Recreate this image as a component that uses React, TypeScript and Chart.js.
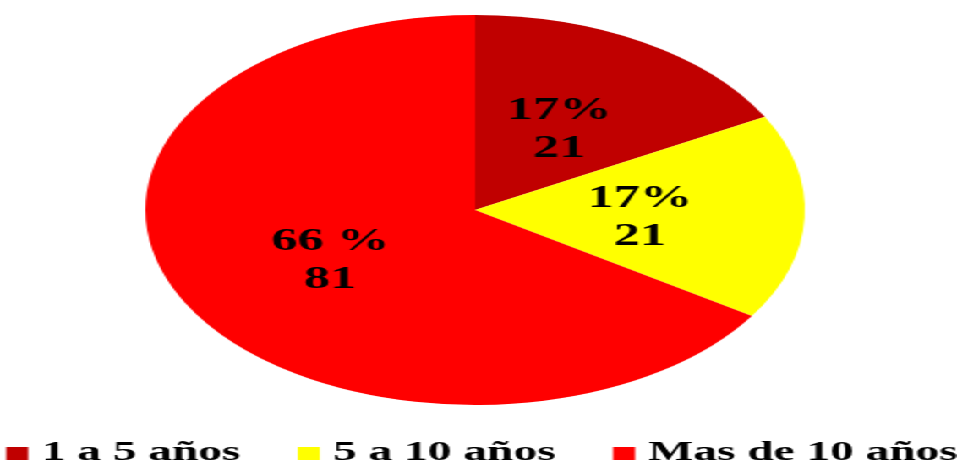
import React, { useEffect, useRef } from "react";
import { Chart, registerables } from "chart.js";

Chart.register(...registerables);

const categories = ["1 a 5 años", "5 a 10 años", "Mas de 10 años"];
const counts = [21, 21, 81];
const percentLabels = ["17%", "17%", "66 %"];
const colors = ["#C00000", "#FFFF00", "#FF0000"];

const BASE_W = 566;
const H = 463;
const SCALE = 957 / BASE_W;
const FONT = "'Liberation Serif', 'Times New Roman', serif";

const labelPlugin = {
  id: "sliceLabels",
  afterDatasetsDraw(chart: any) {
    const ctx = chart.ctx;
    const meta = chart.getDatasetMeta(0);
    ctx.save();
    ctx.font = `bold 31px ${FONT}`;
    ctx.fillStyle = "#000";
    ctx.textAlign = "center";
    ctx.textBaseline = "middle";
    meta.data.forEach((arc: any, i: number) => {
      const p = arc.getProps(["x", "y", "startAngle", "endAngle", "outerRadius"], true);
      const mid = (p.startAngle + p.endAngle) / 2;
      const r = p.outerRadius * 0.5;
      const cx = p.x + Math.cos(mid) * r;
      const cy = p.y + Math.sin(mid) * r + 4;
      ctx.fillText(percentLabels[i], cx, cy - 19);
      ctx.fillText(String(counts[i]), cx, cy + 19);
    });
    ctx.restore();
  },
};

const legendPlugin = {
  id: "bottomLegend",
  afterDraw(chart: any) {
    const ctx = chart.ctx;
    const labels: string[] = chart.data.labels;
    const bg: string[] = chart.data.datasets[0].backgroundColor;
    const box = 13;
    const gap = 8;
    const spacing = 34;
    ctx.save();
    ctx.font = `bold 28px ${FONT}`;
    const widths = labels.map((l) => ctx.measureText(l).width);
    const total =
      widths.reduce((a, w) => a + w + box + gap, 0) + spacing * (labels.length - 1);
    let x = 285 - total / 2;
    const baseline = 460;
    ctx.textAlign = "left";
    ctx.textBaseline = "alphabetic";
    labels.forEach((l, i) => {
      ctx.fillStyle = bg[i];
      ctx.fillRect(x, 447, box, box);
      ctx.fillStyle = "#000";
      ctx.fillText(l, x + box + gap, baseline);
      x += box + gap + widths[i] + spacing;
    });
    ctx.restore();
  },
};

export default function App() {
  const ref = useRef<HTMLCanvasElement | null>(null);
  useEffect(() => {
    document.body.style.overflow = "hidden";
    const chart = new Chart(ref.current as HTMLCanvasElement, {
      type: "pie",
      data: {
        labels: categories,
        datasets: [
          {
            data: counts,
            backgroundColor: colors,
            borderWidth: 0,
          },
        ],
      },
      options: {
        responsive: false,
        animation: false,
        devicePixelRatio: 1,
        layout: { padding: { top: 15, left: 0, right: 4, bottom: 58 } },
        plugins: {
          tooltip: { enabled: false },
          legend: { display: false },
        },
      },
      plugins: [labelPlugin, legendPlugin],
    });
    return () => chart.destroy();
  }, []);
  return (
    <div
      style={{
        position: "absolute",
        left: 0,
        top: 0,
        width: BASE_W,
        height: H,
        transform: `scaleX(${SCALE})`,
        transformOrigin: "0 0",
        background: "#fff",
      }}
    >
      <canvas ref={ref} width={BASE_W} height={H} style={{ width: BASE_W, height: H, display: "block" }} />
    </div>
  );
}
